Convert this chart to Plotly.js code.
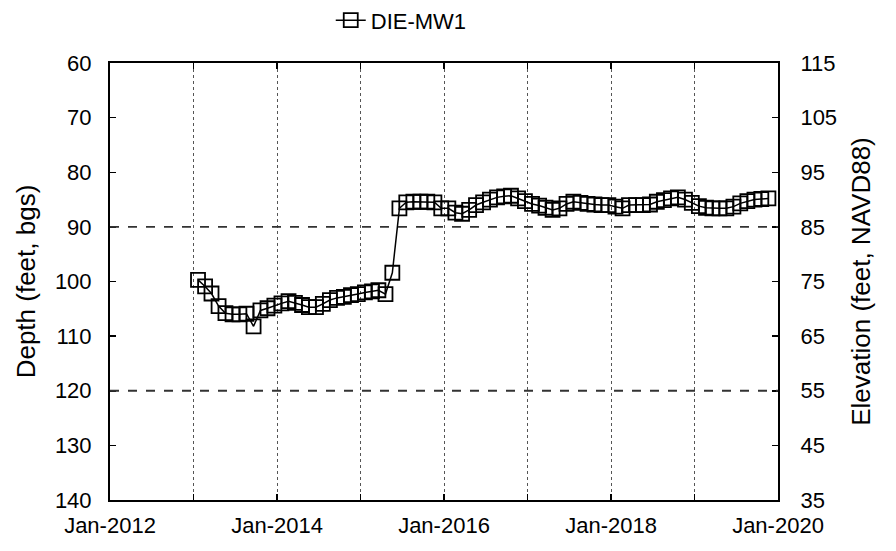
<!DOCTYPE html>
<html>
<head>
<meta charset="utf-8">
<script src="https://cdn.plot.ly/plotly-3.0.1.min.js"></script>
<style>html,body{margin:0;padding:0;background:#fff;}#chart{width:896px;height:551px;}</style>
</head>
<body>
<div id="chart"></div>
<script>
// Monthly measurement dates (approx.) from Jan 2013 to Nov 2019
const dates = [];
for (let y = 2013; y <= 2019; y++) {
  for (let m = 1; m <= 12; m++) {
    if (y === 2019 && m > 11) break;
    dates.push(y + '-' + String(m).padStart(2, '0') + '-20');
  }
}
// Depth to water (feet bgs)
const depth = [
  99.7, 100.9, 102.2, 104.5, 105.8, 106.0, 106.0, 105.9, 108.2, 105.3, 104.9, 104.4,
  104.0, 103.6, 103.9, 104.3, 104.7, 104.7, 104.1, 103.4, 103.0, 102.8, 102.5, 102.3,
  102.0, 101.8, 101.6, 102.3, 98.4, 86.6, 85.5, 85.4, 85.4, 85.4, 85.5, 86.6,
  86.6, 87.4, 87.6, 86.9, 86.0, 85.5, 85.0, 84.6, 84.4, 84.3, 84.8, 85.3,
  85.8, 86.1, 86.5, 86.9, 86.6, 85.8, 85.4, 85.6, 85.8, 85.9, 86.0, 86.0,
  86.3, 86.6, 86.0, 86.0, 86.0, 85.9, 85.4, 85.1, 84.8, 84.6, 85.0, 85.6,
  86.2, 86.5, 86.6, 86.6, 86.6, 86.3, 85.7, 85.3, 85.0, 84.9, 84.8
];
const groundElev = 175; // elevation = 175 - depth
const elevation = depth.map(d => groundElev - d);

const yearTicks = ['2012-01-01','2013-01-01','2014-01-01','2015-01-01','2016-01-01','2017-01-01','2018-01-01','2019-01-01','2020-01-01'];
const yearLabels = ['Jan-2012','','Jan-2014','','Jan-2016','','Jan-2018','','Jan-2020'];
const depthTicks = [60,70,80,90,100,110,120,130,140];
const elevTicks = [35,45,55,65,75,85,95,105,115];
const refDepths = [90, 120];

const fam = 'Liberation Sans, Arial, sans-serif';
const tickFont = {family: fam, size: 22, color: '#000'};
const titleFont = {family: fam, size: 26, color: '#000'};

const traces = [
  {
    x: dates, y: depth, name: 'DIE-MW1', type: 'scatter', mode: 'lines+markers',
    line: {color: '#000', width: 1.5},
    marker: {symbol: 'square-open', size: 14, color: '#000', line: {width: 1.8, color: '#000'}},
    hoverinfo: 'x+y'
  },
  {
    x: dates, y: elevation, yaxis: 'y2', type: 'scatter', mode: 'lines',
    line: {color: 'rgba(0,0,0,0)', width: 0}, showlegend: false, hoverinfo: 'skip'
  }
];

const layout = {
  width: 896, height: 551,
  margin: {l: 110, r: 118, t: 63, b: 51, autoexpand: false},
  paper_bgcolor: '#fff', plot_bgcolor: '#fff',
  font: tickFont,
  showlegend: true,
  legend: {orientation: 'h', x: 0.436, xanchor: 'center', yref: 'container', y: 0.963, yanchor: 'middle', font: tickFont, bgcolor: 'rgba(0,0,0,0)'},
  xaxis: {
    type: 'date', range: ['2012-01-01', '2020-01-01'],
    tickvals: yearTicks, ticktext: yearLabels,
    ticks: 'inside', ticklen: 6, tickwidth: 1.5, tickcolor: '#000',
    showline: true, linecolor: '#000', linewidth: 2, mirror: 'ticks',
    showgrid: true, gridcolor: '#555', griddash: 'dot', gridwidth: 1,
    zeroline: false, tickfont: tickFont, ticklabelstandoff: 5
  },
  yaxis: {
    range: [140, 60], tickvals: depthTicks,
    ticks: 'inside', ticklen: 6, tickwidth: 1.5, tickcolor: '#000',
    showline: true, linecolor: '#000', linewidth: 2,
    showgrid: false, zeroline: false, tickfont: tickFont, ticklabelstandoff: 12,
    title: {text: 'Depth (feet, bgs)', font: titleFont, standoff: 12}
  },
  yaxis2: {
    range: [35, 115], tickvals: elevTicks, overlaying: 'y', side: 'right',
    ticks: 'inside', ticklen: 6, tickwidth: 1.5, tickcolor: '#000',
    showline: true, linecolor: '#000', linewidth: 2,
    showgrid: false, zeroline: false, tickfont: tickFont, ticklabelstandoff: 16,
    title: {text: 'Elevation (feet, NAVD88)', font: titleFont, standoff: 16}
  },
  shapes: refDepths.map(v => ({
    type: 'line', xref: 'paper', x0: 0, x1: 1, yref: 'y', y0: v, y1: v,
    line: {color: '#333', width: 1.8, dash: 'dash'}
  }))
};

Plotly.newPlot('chart', traces, layout, {displayModeBar: false, staticPlot: true});
</script>
</body>
</html>
